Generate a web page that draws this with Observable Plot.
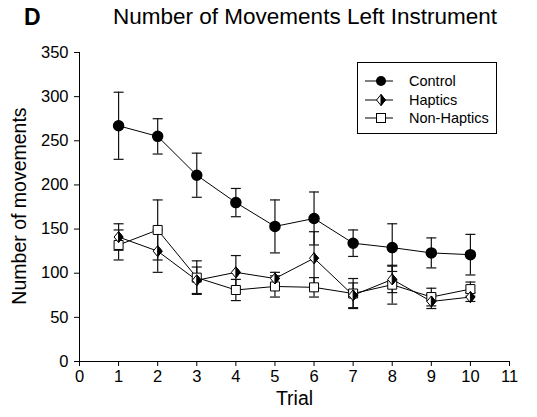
<!DOCTYPE html>
<html>
<head>
<meta charset="utf-8">
<script src="https://cdn.jsdelivr.net/npm/d3@7"></script>
<script src="https://cdn.jsdelivr.net/npm/@observablehq/plot@0.6"></script>
<style>
  html, body { margin: 0; padding: 0; background: #fff; }
  body { width: 537px; height: 417px; overflow: hidden; font-family: "Liberation Sans", Arial, sans-serif; }
  #wrap { position: relative; width: 537px; height: 417px; }
  #panel { position: absolute; left: 24px; top: 4px; font-size: 23px; font-weight: bold; }
  #title { position: absolute; left: 0; width: 610px; text-align: center; top: 4px; font-size: 22.5px; }
  #chart { position: absolute; left: 0; top: 36px; }
  #legend { position: absolute; left: 357px; top: 62px; width: 140px; height: 72px; border: 1px solid #000; box-sizing: border-box; background: #fff; }
  .row { position: absolute; left: 7px; height: 20px; display: flex; align-items: center; font-size: 14.5px; white-space: nowrap; }
  .row svg { margin-right: 16px; }
</style>
</head>
<body>
<div id="wrap">
  <div id="panel">D</div>
  <div id="title">Number of Movements Left Instrument</div>
  <div id="chart"></div>
  <div id="legend"></div>
</div>
<script>
const trials = [1, 2, 3, 4, 5, 6, 7, 8, 9, 10];
const seriesNames = ["Control", "Haptics", "Non-Haptics"];
const control = [267, 255, 211, 180, 153, 162, 134, 129, 123, 121];
const controlErr = [38, 20, 25, 16, 30, 30, 15, 27, 17, 23];
const haptics = [141, 125, 92, 101, 94, 117, 75, 93, 68, 73];
const hapticsErr = [15, 24, 15, 19, 7, 30, 14, 15, 8, 5];
const nonHaptics = [132, 149, 95, 81, 85, 84, 77, 87, 73, 82];
const nonHapticsErr = [17, 34, 19, 12, 12, 11, 17, 22, 10, 8];
const xTicks = [0, 1, 2, 3, 4, 5, 6, 7, 8, 9, 10, 11];
const yTicks = [0, 50, 100, 150, 200, 250, 300, 350];

const values = [control, haptics, nonHaptics];
const errs = [controlErr, hapticsErr, nonHapticsErr];
const rows = seriesNames.flatMap((s, i) => trials.map((t, j) => ({
  series: s, trial: t, value: values[i][j], lo: values[i][j] - errs[i][j], hi: values[i][j] + errs[i][j]
})));
const bySeries = name => rows.filter(d => d.series === name);

const cap = { draw(ctx) { ctx.moveTo(-5, 0); ctx.lineTo(5, 0); } };
const diamond = { draw(ctx) { const w = 4.5, h = 5.5; ctx.moveTo(0, -h); ctx.lineTo(w, 0); ctx.lineTo(0, h); ctx.lineTo(-w, 0); ctx.closePath(); } };
const halfDiamond = { draw(ctx) { const w = 4.5, h = 5.5; ctx.moveTo(0, -h); ctx.lineTo(w, 0); ctx.lineTo(0, h); ctx.closePath(); } };
const square = { draw(ctx) { const s = 4.5; ctx.moveTo(-s, -s); ctx.lineTo(s, -s); ctx.lineTo(s, s); ctx.lineTo(-s, s); ctx.closePath(); } };

const chart = Plot.plot({
  width: 537,
  height: 381,
  marginLeft: 79,
  marginRight: 28,
  marginTop: 16,
  marginBottom: 56,
  style: { fontSize: "16.5px", fontFamily: "Liberation Sans, Arial, sans-serif", color: "#000", background: "#fff" },
  x: { domain: [0, 11], ticks: xTicks, label: null },
  y: { domain: [0, 350], ticks: yTicks, label: null },
  marks: [
    Plot.axisX({ ticks: xTicks, tickSize: 5, tickPadding: 4, label: null, stroke: "#000", fontSize: 16.5 }),
    Plot.axisY({ ticks: yTicks, tickSize: 5, tickPadding: 6, label: null, stroke: "#000", fontSize: 16.5 }),
    Plot.ruleY([0], { stroke: "#000" }),
    Plot.ruleX([0], { stroke: "#000" }),
    Plot.ruleX(rows, { x: "trial", y1: "lo", y2: "hi", stroke: "#111", strokeWidth: 1.2 }),
    Plot.dot(rows, { x: "trial", y: "lo", symbol: cap, stroke: "#111", strokeWidth: 1.2 }),
    Plot.dot(rows, { x: "trial", y: "hi", symbol: cap, stroke: "#111", strokeWidth: 1.2 }),
    Plot.line(rows, { x: "trial", y: "value", z: "series", stroke: "#000", strokeWidth: 1 }),
    Plot.dot(bySeries("Non-Haptics"), { x: "trial", y: "value", symbol: square, fill: "#fff", stroke: "#000", strokeWidth: 1 }),
    Plot.dot(bySeries("Haptics"), { x: "trial", y: "value", symbol: diamond, fill: "#fff", stroke: "#000", strokeWidth: 1 }),
    Plot.dot(bySeries("Haptics"), { x: "trial", y: "value", symbol: halfDiamond, fill: "#000", stroke: "#000", strokeWidth: 1 }),
    Plot.dot(bySeries("Control"), { x: "trial", y: "value", r: 5, fill: "#000", stroke: "#000" }),
    Plot.text(["Trial"], { frameAnchor: "bottom", dy: 43, fontSize: 19.5, fill: "#000" }),
    Plot.text(["Number of movements"], { frameAnchor: "left", textAnchor: "middle", dx: -60, dy: -1, rotate: -90, fontSize: 19.5, fill: "#000" })
  ]
});
document.getElementById("chart").appendChild(chart);

// Legend
const legend = document.getElementById("legend");
const symSvg = {
  "Control": '<circle cx="16" cy="7" r="5" fill="#000"/>',
  "Haptics": '<path d="M16,1.5L20.5,7L16,12.5L11.5,7Z" fill="#fff" stroke="#000"/><path d="M16,1.5L20.5,7L16,12.5Z" fill="#000" stroke="#000"/>',
  "Non-Haptics": '<rect x="11.5" y="2.5" width="9" height="9" fill="#fff" stroke="#000"/>'
};
seriesNames.forEach((name, i) => {
  const row = document.createElement("div");
  row.className = "row";
  row.style.top = (8 + i * 18.7) + "px";
  row.innerHTML = '<svg width="28" height="14"><line x1="0" x2="28" y1="7" y2="7" stroke="#000"/>' + symSvg[name] + '</svg><span>' + name + '</span>';
  legend.appendChild(row);
});
</script>
</body>
</html>
